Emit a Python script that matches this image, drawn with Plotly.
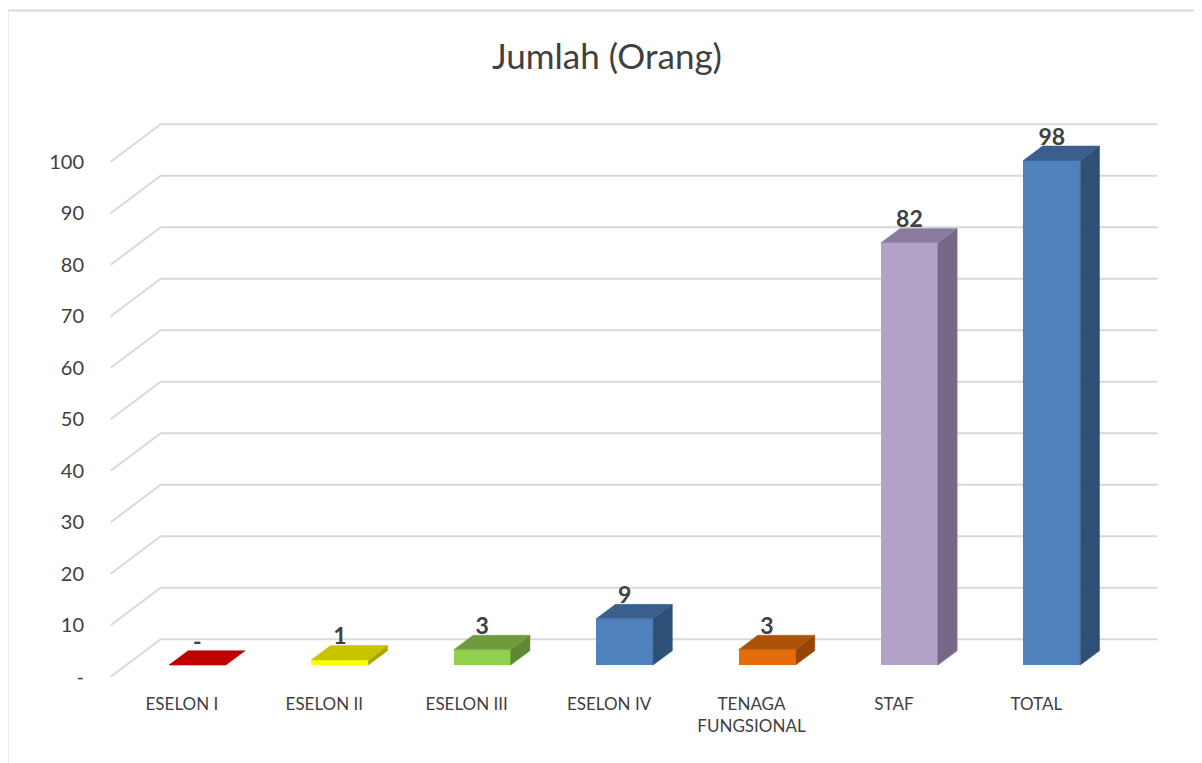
import plotly.graph_objects as go

# ---------------- data ----------------
categories = ["ESELON I", "ESELON II", "ESELON III", "ESELON IV",
              "TENAGA<br>FUNGSIONAL", "STAF", "TOTAL"]
values = [0, 1, 3, 9, 3, 82, 98]
front_colors = ["#C00000", "#FFFF00", "#92D050", "#4F81BD", "#E46C0A", "#B3A2C7", "#4F81BD"]
top_colors = ["#BE0000", "#C8C400", "#6E9C3C", "#3A5F8D", "#AE5208", "#8B7B9E", "#3A5F8D"]
side_colors = ["#9A0000", "#A8A400", "#5E8934", "#2F5076", "#944507", "#766988", "#2F5076"]
y_ticks = [0, 10, 20, 30, 40, 50, 60, 70, 80, 90, 100]
y_ticktext = ["-" if t == 0 else str(t) for t in y_ticks]

# ---------------- geometry (pseudo-3D) ----------------
OFF = 8                                         # page body margin
W, H = 1202 - OFF, 763 - OFF
PL, PR, PT, PB = 100 - OFF, 1170 - OFF, 110 - OFF, 680 - OFF   # plot area (px)
PX_PER_CAT = 142.4
PX_PER_VAL = 5.15
X_FRONT0 = 110.7 - OFF                          # pixel of category edge -0.5 at front
Y_FRONT0 = 676.7 - OFF                          # pixel of value 0 at front
DEPTH_PX_X, DEPTH_PX_Y = 50.0, 37.4            # full depth offset in pixels
DX = DEPTH_PX_X / PX_PER_CAT
DY = DEPTH_PX_Y / PX_PER_VAL
D_FRONT, D_BACK = 0.31, 0.695
BAR_W = 0.4

xmin = -0.5 - (X_FRONT0 - PL) / PX_PER_CAT
xmax = xmin + (PR - PL) / PX_PER_CAT
ymin = -(PB - Y_FRONT0) / PX_PER_VAL
ymax = ymin + (PB - PT) / PX_PER_VAL

FONT = "Lato, Open Sans, sans-serif"
n = len(categories)
fig = go.Figure()

# front faces (bars)
fig.add_trace(go.Bar(
    x=[i + DX * D_FRONT for i in range(n)],
    y=values,
    base=[DY * D_FRONT] * n,
    width=BAR_W,
    marker=dict(color=front_colors, line=dict(width=0)),
    showlegend=False, hoverinfo="skip",
))

dxs = DX * (D_BACK - D_FRONT)
dys = DY * (D_BACK - D_FRONT)
for i, v in enumerate(values):
    xc = i + DX * D_FRONT
    xl, xr = xc - BAR_W / 2, xc + BAR_W / 2
    b = DY * D_FRONT
    t = v + b
    if v > 0:
        fig.add_trace(go.Scatter(
            x=[xr, xr, xr + dxs, xr + dxs, xr],
            y=[b, t, t + dys, b + dys, b],
            fill="toself", fillcolor=side_colors[i], mode="lines",
            line=dict(color=side_colors[i], width=0.5),
            showlegend=False, hoverinfo="skip"))
    fig.add_trace(go.Scatter(
        x=[xl, xr, xr + dxs, xl + dxs, xl],
        y=[t, t, t + dys, t + dys, t],
        fill="toself", fillcolor=top_colors[i], mode="lines",
        line=dict(color=top_colors[i], width=0.5),
        showlegend=False, hoverinfo="skip"))

# data labels
fig.add_trace(go.Scatter(
    x=[i + DX * D_FRONT for i in range(n)],
    y=[v + DY * D_BACK - 0.9 for v in values],
    mode="text",
    text=["-" if v == 0 else str(v) for v in values],
    textposition="top center",
    textfont=dict(family=FONT, size=23, color="#404040", weight="bold"),
    showlegend=False, hoverinfo="skip"))

# gridlines (perspective walls)
shapes = []
for t in y_ticks:
    shapes.append(dict(
        type="path", xref="x", yref="y", layer="below",
        path=f"M {-0.5},{t} L {-0.5 + DX},{t + DY} L {n - 0.5 + DX},{t + DY}",
        line=dict(color="#D9D9D9", width=2)))

# chart border
bx0 = (7.5 - OFF - PL) / (PR - PL)
bx1 = (W + 5 - PL) / (PR - PL)
by_top = (PB - (10.5 - OFF)) / (PB - PT)
by_bot = (PB - (H + 5)) / (PB - PT)
shapes.append(dict(
    type="path", xref="paper", yref="paper", layer="below",
    path=f"M {bx0},{by_bot} L {bx0},{by_top} L {bx1},{by_top}",
    line=dict(color="#D9D9D9", width=2)))

fig.update_layout(
    width=W, height=H,
    margin=dict(l=PL, r=W - PR, t=PT, b=H - PB, pad=0),
    paper_bgcolor="white", plot_bgcolor="white",
    title=dict(text="Jumlah (Orang)", x=(607 - OFF) / W, xref="container", xanchor="center",
               y=1 - (57 - OFF) / H, yref="container", yanchor="middle",
               font=dict(family=FONT, size=35, color="#404040")),
    xaxis=dict(range=[xmin, xmax], tickvals=list(range(n)), ticktext=categories,
               showgrid=False, zeroline=False, showline=False, ticks="",
               ticklabelstandoff=12,
               tickfont=dict(family=FONT, size=17, color="#404040")),
    yaxis=dict(range=[ymin, ymax], tickvals=y_ticks, ticktext=y_ticktext,
               showgrid=False, zeroline=False, showline=False, ticks="",
               ticklabelstandoff=15,
               tickfont=dict(family=FONT, size=20, color="#404040")),
    shapes=shapes,
    bargap=0,
)

fig.write_html("out.html")
